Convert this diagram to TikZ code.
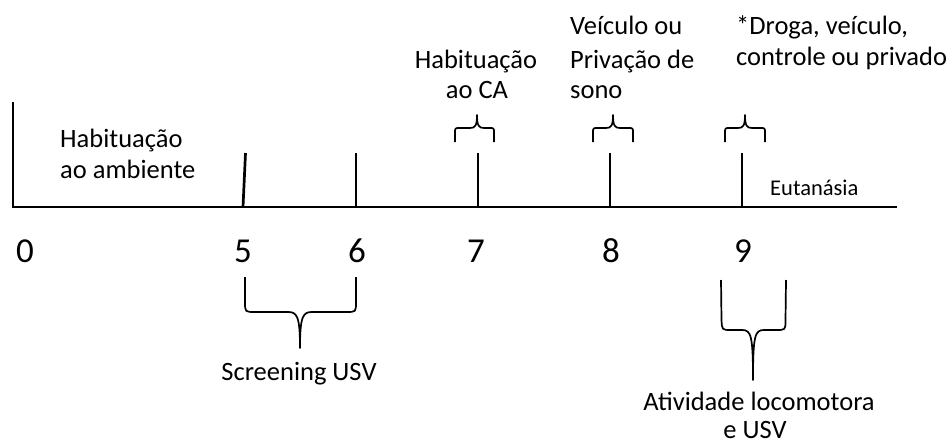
\documentclass[tikz,border=0pt]{standalone}
\usepackage{fontspec}
\setmainfont{Carlito}
\begin{document}
\begin{tikzpicture}[x=1pt,y=-1pt,
  axisline/.style={line width=2.7pt, line cap=butt},
  bracel/.style={line width=1.7pt, line join=round},
  lbl/.style={font=\fontsize{26.5}{31}\selectfont, inner sep=0pt},
  num/.style={font=\fontsize{35}{40}\selectfont, inner sep=0pt, anchor=base},
  sml/.style={font=\fontsize{22.5}{27}\selectfont, inner sep=0pt, anchor=base west}]
\useasboundingbox (0,0) rectangle (952,444);
% axis
\coordinate (top) at (13,102);
\coordinate (orig) at (13,207);
\coordinate (aend) at (897,207);
\draw[axisline] (top) -- (orig) -- (aend);
% ticks
\coordinate (t5a) at (245.5,153); \coordinate (t5b) at (243,207);
\coordinate (t6a) at (356,153);   \coordinate (t6b) at (356,207);
\coordinate (t7a) at (478,153);   \coordinate (t7b) at (478,207);
\coordinate (t8a) at (610,153);   \coordinate (t8b) at (610,207);
\coordinate (t9a) at (742,153);   \coordinate (t9b) at (742,207);
\draw[axisline] (t5a) -- (t5b);
\draw[axisline] (t6a) -- (t6b);
\draw[axisline] (t7a) -- (t7b);
\draw[axisline] (t8a) -- (t8b);
\draw[axisline] (t9a) -- (t9b);
% numbers
\node[num] (n0) at (25,262) {0};
\node[num] (n5) at (243,262) {5};
\node[num] (n6) at (357,262) {6};
\node[num] (n7) at (476,262) {7};
\node[num] (n8) at (611,262) {8};
\node[num] (n9) at (743,262) {9};
% top braces
\draw[bracel] (455,142) -- (455,133) .. controls (455,128) .. (460,128) -- (470,128) .. controls (475,128) and (477,126) .. (477,115) .. controls (477,126) and (479,128) .. (484,128) -- (489,128) .. controls (494,128) .. (494,133) -- (494,142);
\draw[bracel] (593,142) -- (593,133) .. controls (593,128) .. (598,128) -- (606,128) .. controls (611,128) and (613,126) .. (613,115) .. controls (613,126) and (615,128) .. (620,128) -- (628,128) .. controls (633,128) .. (633,133) -- (633,142);
\draw[bracel] (725,142) -- (725,133) .. controls (725,128) .. (730,128) -- (738,128) .. controls (743,128) and (745,126) .. (745,115) .. controls (745,126) and (747,128) .. (752,128) -- (760,128) .. controls (765,128) .. (765,133) -- (765,142);
% bottom braces
\draw[bracel] (245,277) -- (245,302) .. controls (245,312) .. (255,312) -- (288,312) .. controls (297,312) and (300,316) .. (300,348) .. controls (300,316) and (303,312) .. (312,312) -- (346,312) .. controls (356,312) .. (356,302) -- (356,277);
\draw[bracel] (721,280) -- (721.5,320) .. controls (722,330) .. (731,330) -- (742,330) .. controls (751,330) and (753,335) .. (753,380) .. controls (753,335) and (755,330) .. (764,330) -- (776,330) .. controls (785.5,330) .. (785.5,320) -- (786,280);
% labels
\node[lbl, anchor=base west] (ha1) at (60,147) {Habituação};
\node[lbl, anchor=base west] (ha2) at (60,178) {ao ambiente};
\node[lbl, anchor=base] (hc1) at (476,68) {Habituação};
\node[lbl, anchor=base] (hc2) at (477,98) {ao CA};
\node[lbl, anchor=base west] (v1) at (570,35) {Veículo ou};
\node[lbl, anchor=base west] (v2) at (570,68) {Privação de};
\node[lbl, anchor=base west] (v3) at (570,98) {sono};
\node[lbl, anchor=base west] (d1) at (736,35) {*Droga, veículo,};
\node[lbl, anchor=base west] (d2) at (736,65) {controle ou privado};
\node[sml] (eu) at (770,195) {Eutanásia};
\node[lbl, anchor=base] (sc) at (299,380) {Screening USV};
\node[lbl, anchor=base] (at1) at (759,410) {Atividade locomotora};
\node[lbl, anchor=base] (at2) at (755,438) {e USV};
\end{tikzpicture}
\end{document}
